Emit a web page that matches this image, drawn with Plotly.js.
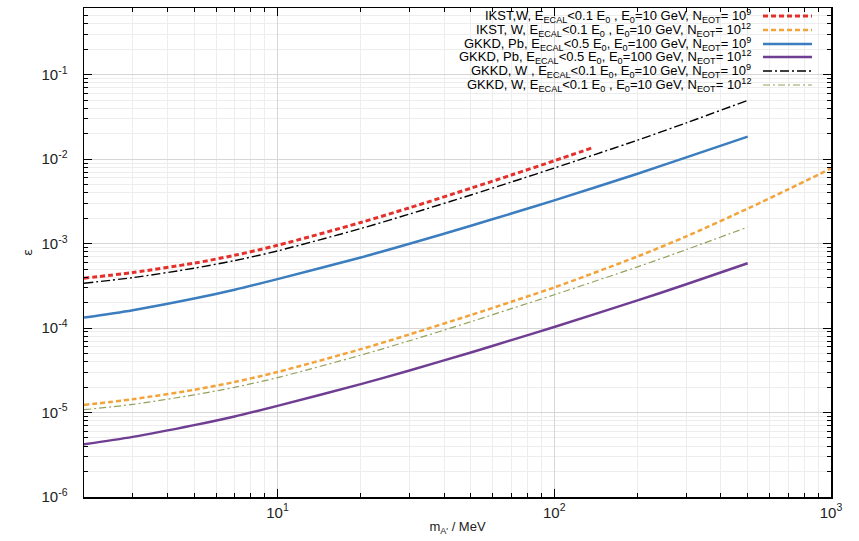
<!DOCTYPE html>
<html>
<head>
<meta charset="utf-8">
<script src="https://cdn.plot.ly/plotly-3.0.1.min.js"></script>
<style>
  html, body { margin: 0; padding: 0; background: #ffffff; }
  #chart { width: 859px; height: 541px; }
</style>
</head>
<body>
<div id="chart"></div>
<script>
// ---- data ----
const massIKST9 = [2, 3, 5, 7, 10, 20, 30, 50, 70, 100, 136];
const epsIKST9  = [3.9e-4, 4.55e-4, 5.87e-4, 7.28e-4, 9.55e-4, 1.78e-3, 2.66e-3, 4.53e-3, 6.49e-3, 9.57e-3, 1.35e-2];

const massIKST12 = [2, 3, 5, 7, 10, 20, 30, 50, 70, 100, 200, 300, 500, 700, 1000];
const epsIKST12  = [1.23e-5, 1.44e-5, 1.86e-5, 2.30e-5, 3.02e-5, 5.63e-5, 8.41e-5, 1.43e-4, 2.05e-4, 3.03e-4, 7.05e-4, 1.22e-3, 2.60e-3, 4.38e-3, 7.80e-3];

const massGKKD = [2, 3, 5, 7, 10, 20, 30, 50, 70, 100, 200, 300, 500];
const epsGKKDPb9  = [1.33e-4, 1.63e-4, 2.24e-4, 2.85e-4, 3.80e-4, 6.85e-4, 9.95e-4, 1.63e-3, 2.27e-3, 3.25e-3, 6.73e-3, 1.05e-2, 1.85e-2];
const epsGKKDPb12 = [4.2e-6, 5.15e-6, 7.1e-6, 9.0e-6, 1.2e-5, 2.17e-5, 3.15e-5, 5.15e-5, 7.2e-5, 1.03e-4, 2.13e-4, 3.3e-4, 5.85e-4];
const epsGKKDW9   = [3.4e-4, 3.96e-4, 5.12e-4, 6.30e-4, 8.20e-4, 1.51e-3, 2.24e-3, 3.77e-3, 5.36e-3, 7.85e-3, 1.68e-2, 2.69e-2, 4.97e-2];
const epsGKKDW12  = [1.08e-5, 1.25e-5, 1.62e-5, 1.99e-5, 2.59e-5, 4.78e-5, 7.08e-5, 1.19e-4, 1.70e-4, 2.48e-4, 5.31e-4, 8.5e-4, 1.57e-3];

const seriesLabels = [
  "IKST,W, E<sub>ECAL</sub><0.1 E<sub>0</sub> , E<sub>0</sub>=10 GeV, N<sub>EOT</sub>= 10<sup>9</sup>",
  "IKST, W, E<sub>ECAL</sub><0.1 E<sub>0</sub> , E<sub>0</sub>=10 GeV, N<sub>EOT</sub>= 10<sup>12</sup>",
  "GKKD, Pb, E<sub>ECAL</sub><0.5 E<sub>0</sub>, E<sub>0</sub>=100 GeV, N<sub>EOT</sub>= 10<sup>9</sup>",
  "GKKD, Pb, E<sub>ECAL</sub><0.5 E<sub>0</sub>, E<sub>0</sub>=100 GeV, N<sub>EOT</sub>= 10<sup>12</sup>",
  "GKKD, W , E<sub>ECAL</sub><0.1 E<sub>0</sub>, E<sub>0</sub>=10 GeV, N<sub>EOT</sub>= 10<sup>9</sup>",
  "GKKD, W, E<sub>ECAL</sub><0.1 E<sub>0</sub> , E<sub>0</sub>=10 GeV, N<sub>EOT</sub>= 10<sup>12</sup>"
];
const xTickVals = [10, 100, 1000];
const xTickText = ["10<sup>1</sup>", "10<sup>2</sup>", "10<sup>3</sup>"];
const yTickVals = [1e-6, 1e-5, 1e-4, 1e-3, 1e-2, 1e-1];
const yTickText = ["10<sup>-6</sup>", "10<sup>-5</sup>", "10<sup>-4</sup>", "10<sup>-3</sup>", "10<sup>-2</sup>", "10<sup>-1</sup>"];
const xTitle = "m<sub>A'</sub> / MeV";
const yTitle = "ε";

// ---- styles ----
const styles = [
  {color: '#e3302b', width: 3,   dash: '5px,3px'},
  {color: '#f2a33a', width: 2.5, dash: '5px,3px'},
  {color: '#3b7dbf', width: 2.5, dash: 'solid'},
  {color: '#6f3e92', width: 2.5, dash: 'solid'},
  {color: '#000000', width: 1.4, dash: '9px,3px,2px,3px'},
  {color: '#93a25a', width: 1.2, dash: '7px,3px,2px,3px'}
];
const xs = [massIKST9, massIKST12, massGKKD, massGKKD, massGKKD, massGKKD];
const ys = [epsIKST9, epsIKST12, epsGKKDPb9, epsGKKDPb12, epsGKKDW9, epsGKKDW12];

const order = [3, 5, 1, 2, 4, 0];
const traces = order.map(i => ({
  x: xs[i], y: ys[i], type: 'scatter', mode: 'lines',
  line: {color: styles[i].color, width: styles[i].width, dash: styles[i].dash, shape: 'spline', smoothing: 0.8},
  name: seriesLabels[i], showlegend: false, hoverinfo: 'skip'
}));

// ---- layout geometry (pixels) ----
const W = 859, H = 541;
const L = 84, R = 831, T = 8, B = 497;
const pxX = p => (p - L) / (R - L);
const pxY = p => (B - p) / (B - T);

const rowY = [16, 30, 44, 57, 71, 85];
const textRight = 753, sampleX0 = 763, sampleX1 = 812;

const FONT = 'Liberation Sans, Arial, Helvetica, sans-serif';
const annotations = seriesLabels.map((t, i) => ({
  xref: 'paper', yref: 'paper', x: pxX(textRight), y: pxY(rowY[i]),
  xanchor: 'right', yanchor: 'middle', text: t, showarrow: false,
  font: {family: FONT, size: 13, color: '#000'}
}));
const shapes = styles.map((s, i) => ({
  type: 'line', xref: 'paper', yref: 'paper',
  x0: pxX(sampleX0), x1: pxX(sampleX1), y0: pxY(rowY[i]), y1: pxY(rowY[i]),
  line: {color: s.color, width: s.width, dash: s.dash}
}));

const axisCommon = {
  type: 'log', showline: true, linecolor: '#000', linewidth: 1.5, mirror: 'allticks',
  ticks: 'inside', ticklen: 8, tickwidth: 1, tickcolor: '#000',
  showgrid: true, gridcolor: '#d6d6d6', gridwidth: 1, zeroline: false,
  tickmode: 'array',
  tickfont: {family: FONT, size: 15, color: '#222'},
  minor: {ticks: 'inside', ticklen: 4, tickwidth: 1, tickcolor: '#000', showgrid: true, gridcolor: '#ededed', gridwidth: 1, dtick: 'D1'}
};

const layout = {
  width: W, height: H,
  margin: {l: L, r: W - R, t: T, b: H - B, pad: 0},
  paper_bgcolor: '#ffffff', plot_bgcolor: '#ffffff',
  showlegend: false,
  xaxis: Object.assign({}, axisCommon, {
    range: [Math.log10(2), 3],
    tickvals: xTickVals, ticktext: xTickText,
    ticklabelstandoff: 1,
    title: {text: xTitle, standoff: 2, font: {family: FONT, size: 13, color: '#222'}}
  }),
  yaxis: Object.assign({}, axisCommon, {
    range: [-6, -0.21],
    tickvals: yTickVals, ticktext: yTickText,
    ticklabelstandoff: 12,
    title: {text: yTitle, standoff: 6, font: {family: 'DejaVu Sans, sans-serif', size: 13, color: '#222'}}
  }),
  annotations: annotations,
  shapes: shapes
};

Plotly.newPlot('chart', traces, layout, {displayModeBar: false, staticPlot: true});
</script>
</body>
</html>
